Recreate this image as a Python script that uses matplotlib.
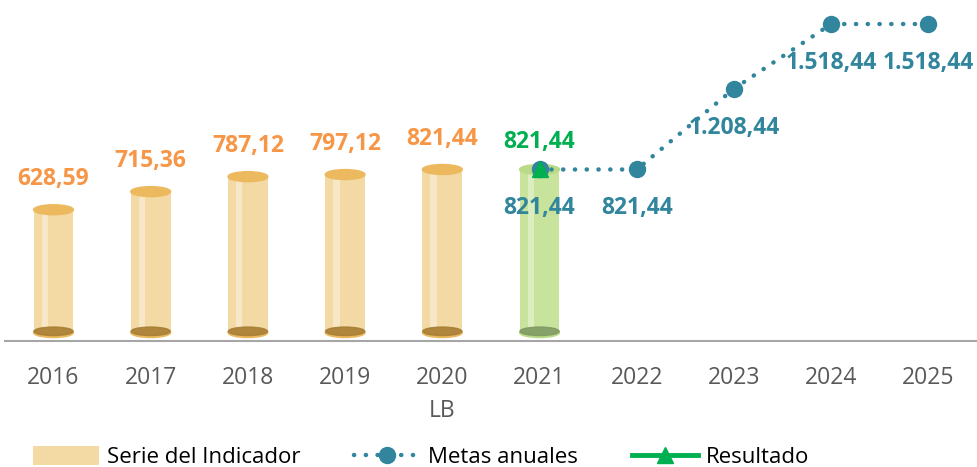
import matplotlib.pyplot as plt
from matplotlib.patches import Ellipse, Patch
from matplotlib.lines import Line2D

years = ['2016', '2017', '2018', '2019', '2020', '2021', '2022', '2023', '2024', '2025']
serie = [628.59, 715.36, 787.12, 797.12, 821.44, 821.44]
metas = [821.44, 821.44, 1208.44, 1518.44, 1518.44]  # 2021..2025
resultado = [821.44]  # 2021

serie_labels = ['628,59', '715,36', '787,12', '797,12', '821,44', '821,44']
metas_labels = ['821,44', '821,44', '1.208,44', '1.518,44', '1.518,44']
resultado_labels = ['821,44']

ORANGE = '#F79646'
TEAL = '#31859C'
GREEN = '#00B050'

plt.rcParams['font.family'] = ['Open Sans', 'DejaVu Sans']

fig = plt.figure(figsize=(9.77, 4.67), dpi=100)
ax = fig.add_axes([0.005, 0.27, 0.995, 0.715])

bw = 0.41
eh = 48
base = 40
for i, v in enumerate(serie):
    green = i == 5
    body = '#C8E39B' if green else '#F3D9A4'
    top = '#B9DA86' if green else '#ECB95F'
    dark = '#7F9863' if green else '#A57D35'
    light = '#DCEEBF' if green else '#F8E7C6'
    ax.bar(i, v - base, bottom=base, width=bw, color=body, zorder=2)
    ax.bar(i - bw * 0.22, v - base, bottom=base, width=bw * 0.16, color=light, zorder=2.1)
    ax.add_patch(Ellipse((i, base), bw, eh, color=top, zorder=2.2))
    ax.add_patch(Ellipse((i, base + 6), bw * 0.98, eh * 0.85, color=dark, alpha=0.85, zorder=2.3))
    ax.add_patch(Ellipse((i, v), bw, eh, color=top, zorder=2.4))
    if not green:
        ax.annotate(serie_labels[i], (i, v), xytext=(0, 22), textcoords='offset points',
                    ha='center', va='center', fontsize=16.5, fontweight='bold', color=ORANGE)

mx = list(range(5, 10))
ax.plot(mx, metas, color=TEAL, linewidth=3.2, linestyle=(0, (0.05, 2.6)), dash_capstyle='round',
        marker='o', markersize=11.5, zorder=4)
for x, v, t in zip(mx, metas, metas_labels):
    ax.annotate(t, (x, v), xytext=(0, -28), textcoords='offset points',
                ha='center', va='center', fontsize=16.5, fontweight='bold', color=TEAL, zorder=6)

ax.plot([5], resultado, color=GREEN, linewidth=3.5, marker='^', markersize=11, zorder=5)
ax.annotate(resultado_labels[0], (5, resultado[0]), xytext=(0, 20), textcoords='offset points',
            ha='center', va='center', fontsize=16.5, fontweight='bold', color=GREEN, zorder=6)

ax.set_xlim(-0.5, 9.5)
ax.set_ylim(0, 1600)
ax.set_yticks([])
ax.set_xticks(range(len(years)))
ax.set_xticklabels(years, fontsize=16.5, color='#595959')
ax.tick_params(axis='x', length=0, pad=18)
for s in ['top', 'right', 'left']:
    ax.spines[s].set_visible(False)
ax.spines['bottom'].set_color('#A6A6A6')
ax.spines['bottom'].set_linewidth(1.5)
ax.text(4, -0.21, 'LB', transform=ax.get_xaxis_transform(), ha='center', va='center',
        fontsize=16.5, color='#595959')

handles = [
    Patch(facecolor='#F3D9A4', edgecolor='none'),
    Line2D([], [], color=TEAL, linewidth=3.2, linestyle=(0, (0.05, 2.6)), dash_capstyle='round',
           marker='o', markersize=11.5),
    Line2D([], [], color=GREEN, linewidth=3.5, marker='^', markersize=11),
]
fig.legend(handles, ['Serie del Indicador', 'Metas anuales', 'Resultado'], loc='lower left',
           bbox_to_anchor=(0.013, -0.045), ncol=3, frameon=False, fontsize=16,
           handlelength=3.0, handletextpad=0.35, columnspacing=2.4, handleheight=0.9)

fig.savefig('out.png', dpi=100)
